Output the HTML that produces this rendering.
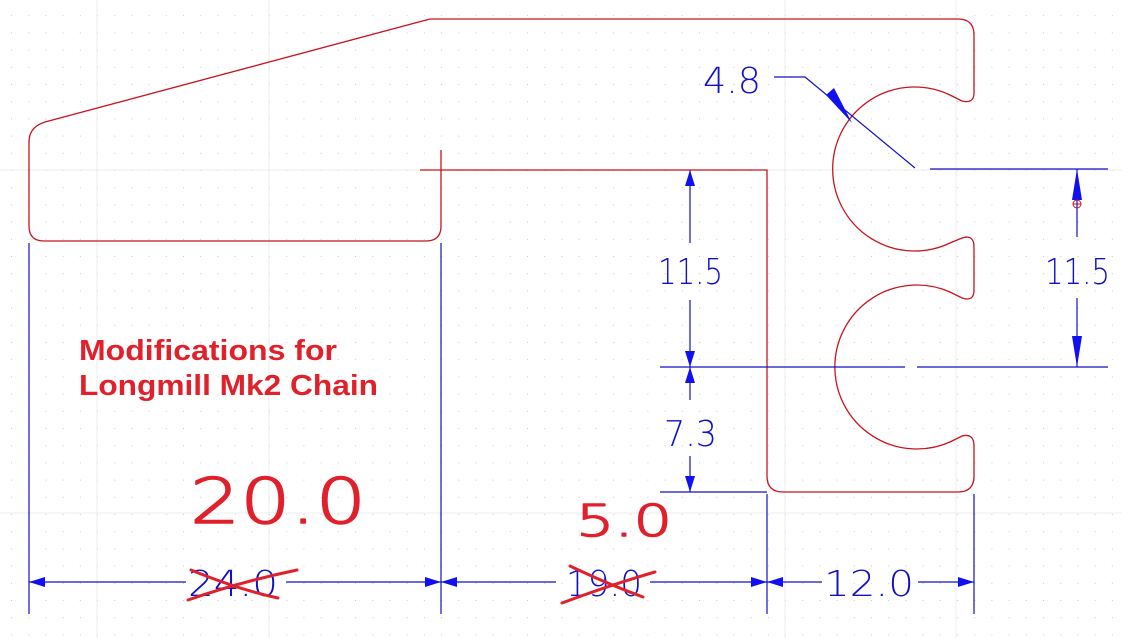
<!DOCTYPE html>
<html><head><meta charset="utf-8"><style>
html,body{margin:0;padding:0;background:#fff}
svg{display:block}
</style></head><body>
<svg width="1122" height="638" viewBox="0 0 1122 638" xmlns="http://www.w3.org/2000/svg">
<defs>
<pattern id="dots" width="17.2" height="17.2" patternUnits="userSpaceOnUse" x="11" y="-2">
<rect x="0" y="0" width="1" height="1" fill="#c8c8c8"/>
</pattern>
</defs>
<rect width="1122" height="638" fill="#fff"/>
<rect width="1122" height="638" fill="url(#dots)"/>
<g stroke="#ececec" stroke-width="1">
<line x1="0" y1="170" x2="1122" y2="170"/>
<line x1="0" y1="513" x2="1122" y2="513"/>
<line x1="97" y1="0" x2="97" y2="638"/>
<line x1="269" y1="0" x2="269" y2="638"/>
<line x1="785" y1="0" x2="785" y2="638"/>
<line x1="956" y1="0" x2="956" y2="638"/>
</g>
<g fill="none" stroke="#c8141e" stroke-width="1.3">
<path d="M430,19 L958,19 Q974,19 974,35 L974,93 Q974,104 962,101 L950,95 A82,82 0 1 0 950,243 L962,238 Q974,234 974,247 L974,290 Q974,302 962,298 L950,292 A82,82 0 1 0 950,442 L962,436 Q974,433 974,446 L974,476 Q974,492 958,492 L783,492 Q767,492 767,476 L767,170 L420,170"/>
<path d="M430,19 L45,122 Q29,127 29,142 L29,226 Q29,241 44,241 L426,241 Q441,241 441,226 L441,150"/>
</g>
<g stroke="#1010c8" stroke-width="1.2" fill="none">
<line x1="29" y1="243" x2="29" y2="614"/>
<line x1="441" y1="243" x2="441" y2="614"/>
<line x1="767" y1="494" x2="767" y2="614"/>
<line x1="974" y1="494" x2="974" y2="614"/>
<line x1="29" y1="582" x2="186" y2="582"/>
<line x1="286" y1="582" x2="441" y2="582"/>
<line x1="441" y1="582" x2="556" y2="582"/>
<line x1="650" y1="582" x2="767" y2="582"/>
<line x1="767" y1="582" x2="822" y2="582"/>
<line x1="918" y1="582" x2="974" y2="582"/>
<line x1="660" y1="367" x2="905" y2="367"/>
<line x1="917" y1="367" x2="1108" y2="367"/>
<line x1="930" y1="169" x2="1108" y2="169"/>
<line x1="660" y1="492" x2="767" y2="492"/>
<line x1="690" y1="170" x2="690" y2="243"/>
<line x1="690" y1="300" x2="690" y2="367"/>
<line x1="690" y1="367" x2="690" y2="400"/>
<line x1="690" y1="456" x2="690" y2="492"/>
<line x1="1077" y1="169" x2="1077" y2="237"/>
<line x1="1077" y1="298" x2="1077" y2="367"/>
<polyline points="774,77 805,77 915,168"/>
</g>
<g fill="#1010f0">
<polygon points="29,582 45,577 45,587"/>
<polygon points="441,582 425,577 425,587"/>
<polygon points="441,582 457,577 457,587"/>
<polygon points="767,582 751,577 751,587"/>
<polygon points="767,582 783,577 783,587"/>
<polygon points="974,582 958,577 958,587"/>
<polygon points="690,170 685,186 695,186"/>
<polygon points="690,367 685,351 695,351"/>
<polygon points="690,367 685,383 695,383"/>
<polygon points="690,492 685,476 695,476"/>
<polygon points="1077,169 1072,200 1082,200"/>
<polygon points="1077,367 1072,336 1082,336"/>
<polygon points="852,123 826,95 834,88"/>
</g>
<circle cx="1077" cy="204" r="4" fill="none" stroke="#c8141e" stroke-width="1"/>
<line x1="1073" y1="204" x2="1081" y2="204" stroke="#c8141e"/>
<g font-family="DejaVu Sans ExtraLight, DejaVu Sans, Liberation Sans, sans-serif" font-size="36" fill="#1010c8" font-weight="200">
<text x="658" y="284" textLength="65" lengthAdjust="spacingAndGlyphs">11.5</text>
<text x="1045" y="284" textLength="65" lengthAdjust="spacingAndGlyphs">11.5</text>
<text x="664" y="446" textLength="53" lengthAdjust="spacingAndGlyphs">7.3</text>
<text x="703" y="93" textLength="58" lengthAdjust="spacingAndGlyphs">4.8</text>
<text x="824" y="596" textLength="90" lengthAdjust="spacingAndGlyphs">12.0</text>
<text x="188" y="596" textLength="90" lengthAdjust="spacingAndGlyphs">24.0</text>
<text x="566" y="596" textLength="76" lengthAdjust="spacingAndGlyphs">19.0</text>
</g>
<g stroke="#e0202a" stroke-width="3" fill="none" stroke-linecap="round">
<path d="M188,600 Q240,582 297,570"/>
<path d="M191,570 Q240,590 278,598"/>
<path d="M562,603 Q610,585 655,572"/>
<path d="M570,566 Q610,585 643,597"/>
</g>
<g font-family="Liberation Sans, sans-serif" font-weight="bold" font-size="29" fill="#e0202a">
<text x="79" y="360" textLength="258" lengthAdjust="spacingAndGlyphs">Modifications for</text>
<text x="79" y="395" textLength="299" lengthAdjust="spacingAndGlyphs">Longmill Mk2 Chain</text>
</g>
<g font-family="DejaVu Sans ExtraLight, DejaVu Sans, Liberation Sans, sans-serif" font-weight="200" fill="#e0202a" stroke="#e0202a" stroke-width="1.5" stroke-linejoin="round">
<text x="190" y="523" font-size="62" textLength="176" lengthAdjust="spacingAndGlyphs">20.0</text>
<text x="576" y="536" font-size="44" textLength="96" lengthAdjust="spacingAndGlyphs">5.0</text>
</g>
</svg>
</body></html>
